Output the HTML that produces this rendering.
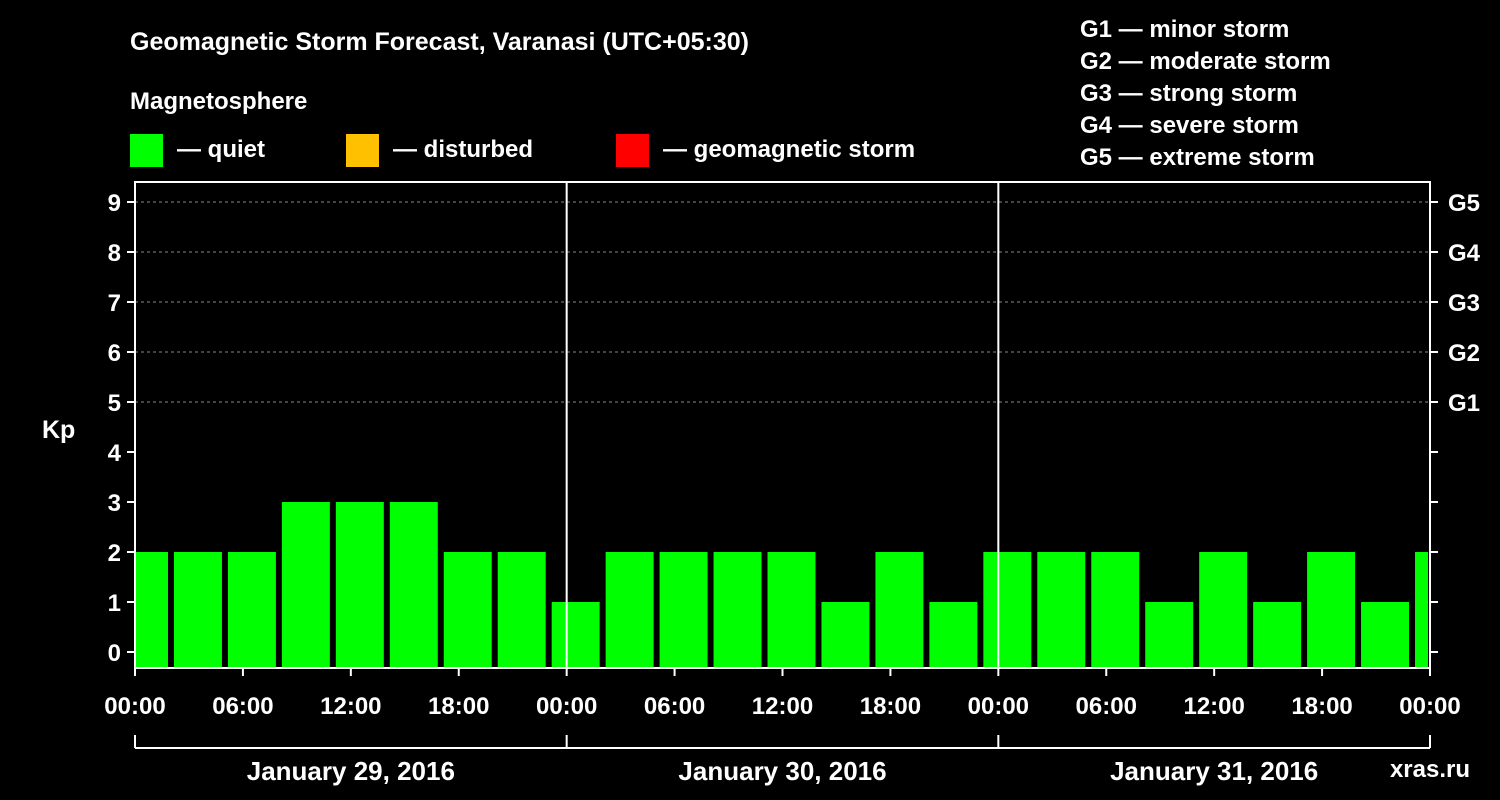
<!DOCTYPE html>
<html><head><meta charset="utf-8"><style>
html,body{margin:0;padding:0;background:#000;}
svg{display:block;font-family:"Liberation Sans",Arial,sans-serif;font-weight:bold;}
</style></head><body>
<svg id="chart" width="1500" height="800" viewBox="0 0 1500 800">
<rect x="0" y="0" width="1500" height="800" fill="#000"/>
<text x="130" y="50" fill="#fff" font-size="25">Geomagnetic Storm Forecast, Varanasi (UTC+05:30)</text>
<text x="130" y="109" fill="#fff" font-size="24">Magnetosphere</text>
<g><rect x="130" y="134" width="33" height="33" fill="#00ff00"/><text x="177" y="157" fill="#fff" font-size="24">— quiet</text></g>
<g><rect x="346" y="134" width="33" height="33" fill="#ffc000"/><text x="393" y="157" fill="#fff" font-size="24">— disturbed</text></g>
<g><rect x="616" y="134" width="33" height="33" fill="#ff0000"/><text x="663" y="157" fill="#fff" font-size="24">— geomagnetic storm</text></g>
<g fill="#fff" font-size="24">
<text x="1080" y="37">G1 — minor storm</text>
<text x="1080" y="69">G2 — moderate storm</text>
<text x="1080" y="101">G3 — strong storm</text>
<text x="1080" y="133">G4 — severe storm</text>
<text x="1080" y="165">G5 — extreme storm</text>
</g>
<g id="grid"></g>
<g id="bars"></g>
<g id="axes"></g>
<text x="42" y="438" fill="#fff" font-size="25">Kp</text>
<text x="1470" y="777" fill="#fff" font-size="24" text-anchor="end">xras.ru</text>
</svg>
<script>
const kpValues = [2,2,2,3,3,3,2,2,1,2,2,2,2,1,2,1,2,2,2,1,2,1,2,1,2];
const yTicks = [0,1,2,3,4,5,6,7,8,9];
const gLabels = ["G1","G2","G3","G4","G5"];
const xTickLabels = ["00:00","06:00","12:00","18:00","00:00","06:00","12:00","18:00","00:00","06:00","12:00","18:00","00:00"];
const dayLabels = ["January 29, 2016","January 30, 2016","January 31, 2016"];

const NS="http://www.w3.org/2000/svg";
const L=135,R=1430,T=182,B=668;
const y=k=>652-50*k;
const hourPx=(R-L)/72;
const x=h=>L+h*hourPx;
function mk(tag,attrs,parent){const e=document.createElementNS(NS,tag);for(const k in attrs)e.setAttribute(k,attrs[k]);parent.appendChild(e);return e;}
const grid=document.getElementById('grid'),bars=document.getElementById('bars'),axes=document.getElementById('axes');
yTicks.forEach(k=>{if(k>=5){const l=mk('line',{x1:L,x2:R,y1:y(k),y2:y(k),stroke:'#888','stroke-dasharray':'3,3','stroke-width':1},grid);

}});
kpValues.forEach((v,i)=>{
  const h0=-0.5+3*i; let x0=x(h0)-6*hourPx/6*0.5, x1=x(h0+3)-0; // bar spans interval minus gap
  x0=L+(-15+54*i)*(R-L)/1296*1; x1=x0+48*(R-L)/1296;
  const a=Math.max(x0,L),b=Math.min(x1,R-2);
  const r=mk('rect',{x:a,y:y(v),width:b-a,height:B-y(v),fill:'#00ff00'},bars);
  
  
});
mk('rect',{x:L,y:T,width:R-L,height:B-T,fill:'none',stroke:'#fff','stroke-width':2},axes);
[1,2].forEach(d=>{mk('line',{x1:x(24*d),x2:x(24*d),y1:T,y2:B,stroke:'#fff','stroke-width':2},axes);});
yTicks.forEach(k=>{
  mk('line',{x1:L-8,x2:L,y1:y(k),y2:y(k),stroke:'#fff','stroke-width':2},axes);
  mk('line',{x1:R,x2:R+8,y1:y(k),y2:y(k),stroke:'#fff','stroke-width':2},axes);
  const t=mk('text',{x:L-14,y:y(k)+9,fill:'#fff','font-size':24,'text-anchor':'end'},axes);t.textContent=k;
  
  
});
gLabels.forEach((g,i)=>{const t=mk('text',{x:R+18,y:y(5+i)+9,fill:'#fff','font-size':24},axes);t.textContent=g;
  
  });
xTickLabels.forEach((s,i)=>{const xx=x(6*i);
  mk('line',{x1:xx,x2:xx,y1:B,y2:B+8,stroke:'#fff','stroke-width':2},axes);
  const t=mk('text',{x:xx,y:714,fill:'#fff','font-size':24,'text-anchor':'middle'},axes);t.textContent=s;
  
  });
mk('line',{x1:L,x2:R,y1:748,y2:748,stroke:'#fff','stroke-width':2},axes);
[0,1,2,3].forEach(d=>mk('line',{x1:x(24*d),x2:x(24*d),y1:735,y2:748,stroke:'#fff','stroke-width':2},axes));
dayLabels.forEach((s,i)=>{const t=mk('text',{x:x(24*i+12),y:780,fill:'#fff','font-size':26,'text-anchor':'middle'},axes);t.textContent=s;
  
  });
</script>
</body></html>
